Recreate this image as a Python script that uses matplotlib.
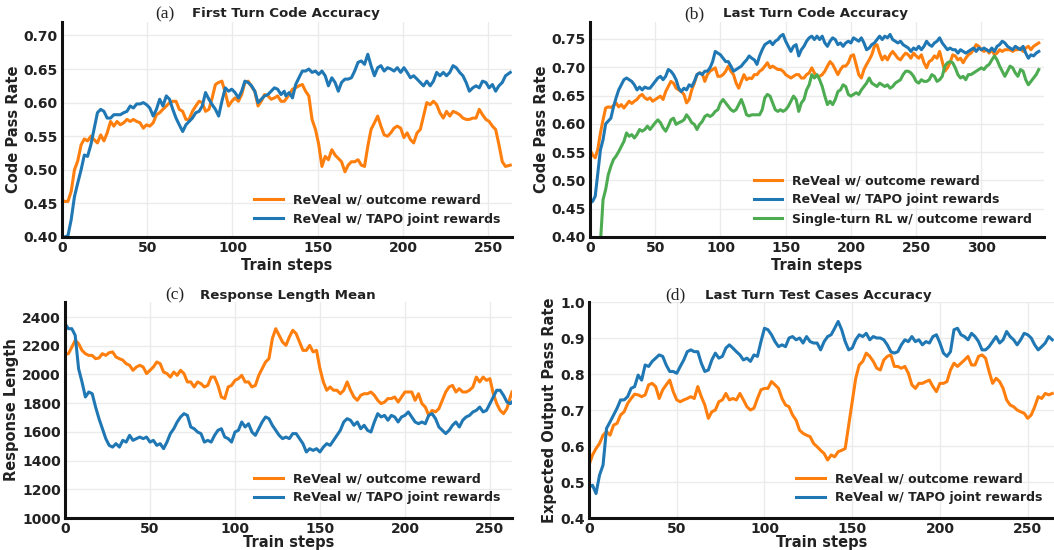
import matplotlib
matplotlib.use("Agg")
import matplotlib.pyplot as plt

# ---------------- data ----------------
a_steps = [0, 1.5, 3.5, 5.4, 7.3, 9.2, 11.2, 13.1, 15.0, 16.9, 18.8, 20.8, 22.7, 24.6, 26.5, 28.5, 30.4, 32.3, 34.2,
           36.2, 38.1, 40.0, 41.9, 43.8, 45.8, 47.7, 49.6, 51.5, 53.5, 55.4, 57.3, 59.2, 61.2, 63.1, 65.0, 66.9,
           68.8, 70.8, 72.7, 74.6, 76.5, 78.5, 80.4, 82.3, 84.2, 86.2, 88.1, 90.0, 91.9, 93.8, 95.8, 97.7, 99.6,
           101.5, 103.5, 105.4, 107.3, 109.2, 111.2, 113.1, 115.0, 116.9, 118.8, 120.8, 122.7, 124.6, 126.5,
           128.5, 130.4,
           131.3, 133.3, 135.2, 137.1, 139.0, 141.0, 142.9, 144.8, 146.7, 148.7, 150.6, 152.5, 154.4, 156.3,
           158.3, 160.2, 162.1, 164.0, 166.0, 167.9, 169.8, 171.7, 173.7, 175.6, 177.5, 179.4, 181.3, 183.3,
           185.2, 187.1, 189.0, 191.0, 192.9, 194.8, 196.7, 198.7, 200.6, 202.5, 204.4, 206.3, 208.3, 210.2,
           212.1, 214.0, 216.0, 217.9, 219.8, 221.7, 223.7, 225.6, 227.5, 229.4, 231.3, 233.3, 235.2, 237.1,
           239.0, 241.0, 242.9, 244.8, 246.7, 248.7, 250.6, 252.5, 254.4, 256.3, 258.3, 260.2, 263]
a_outcome = [0.455,
             0.453, 0.453, 0.468, 0.50, 0.513, 0.537, 0.546, 0.543, 0.55, 0.545,
             0.54, 0.552, 0.543, 0.555, 0.572, 0.565, 0.572, 0.567, 0.57, 0.575,
             0.572, 0.575, 0.572, 0.57, 0.562, 0.567, 0.565, 0.57, 0.582, 0.585,
             0.59, 0.595, 0.60, 0.602, 0.602, 0.59, 0.587, 0.575, 0.575, 0.587,
             0.595, 0.602, 0.60, 0.587, 0.59, 0.607, 0.627, 0.63, 0.632, 0.615,
             0.595, 0.602, 0.607, 0.602, 0.612, 0.63, 0.632, 0.624, 0.617, 0.595,
             0.602, 0.612, 0.61, 0.605, 0.607, 0.61, 0.602, 0.602,
             0.605, 0.612, 0.62, 0.622, 0.625, 0.627, 0.617, 0.61, 0.575, 0.56,
             0.538, 0.505, 0.52, 0.515, 0.53, 0.522, 0.517, 0.512, 0.497, 0.507,
             0.512, 0.512, 0.515, 0.507, 0.505, 0.535, 0.56, 0.57, 0.58, 0.565,
             0.552, 0.55, 0.555, 0.562, 0.565, 0.562, 0.548, 0.555, 0.545, 0.54,
             0.555, 0.56, 0.58, 0.60, 0.597, 0.602, 0.597, 0.585, 0.577, 0.587,
             0.58, 0.587, 0.585, 0.582, 0.577, 0.575, 0.575, 0.577, 0.577, 0.59,
             0.582, 0.575, 0.572, 0.565, 0.56, 0.538, 0.512, 0.505, 0.507]
a_tapo = [0.398,
          0.40, 0.402, 0.426, 0.46, 0.48, 0.50, 0.522, 0.52, 0.537, 0.56,
          0.585, 0.59, 0.587, 0.577, 0.577, 0.582, 0.582, 0.582, 0.585, 0.587,
          0.595, 0.592, 0.598, 0.598, 0.60, 0.597, 0.592, 0.58, 0.59, 0.605,
          0.595, 0.61, 0.605, 0.59, 0.577, 0.567, 0.557, 0.567, 0.572, 0.577,
          0.585, 0.587, 0.595, 0.615, 0.605, 0.597, 0.59, 0.58, 0.602, 0.622,
          0.617, 0.62, 0.615, 0.607, 0.617, 0.632, 0.63, 0.625, 0.617, 0.60,
          0.605, 0.61, 0.612, 0.617, 0.622, 0.62, 0.612, 0.617,
          0.61, 0.615, 0.607, 0.627, 0.637, 0.647, 0.647, 0.65, 0.645, 0.647,
          0.642, 0.647, 0.64, 0.625, 0.637, 0.63, 0.617, 0.63, 0.635, 0.635,
          0.637, 0.647, 0.66, 0.662, 0.657, 0.672, 0.655, 0.64, 0.652, 0.655,
          0.647, 0.652, 0.65, 0.647, 0.652, 0.645, 0.652, 0.645, 0.637, 0.64,
          0.635, 0.63, 0.625, 0.632, 0.625, 0.632, 0.645, 0.64, 0.645, 0.64,
          0.645, 0.655, 0.652, 0.645, 0.64, 0.63, 0.617, 0.622, 0.625, 0.622,
          0.632, 0.63, 0.622, 0.627, 0.617, 0.625, 0.63, 0.64, 0.645]

b_steps = list(range(0, 345, 2))
b_outcome = [0.554, 0.545, 0.54, 0.555, 0.584, 0.607, 0.628, 0.63, 0.629, 0.632,
             0.637, 0.63, 0.634, 0.628, 0.634, 0.64, 0.636, 0.64, 0.643, 0.649,
             0.652, 0.646, 0.643, 0.646, 0.64, 0.643, 0.646, 0.649, 0.643, 0.657,
             0.666, 0.675, 0.672, 0.663, 0.66, 0.657, 0.652, 0.637, 0.643, 0.66,
             0.672, 0.687, 0.69, 0.689, 0.675, 0.687, 0.693, 0.696, 0.699, 0.684,
             0.684, 0.687, 0.693, 0.702, 0.693, 0.687, 0.672, 0.663, 0.675, 0.687,
             0.678, 0.681, 0.68, 0.687, 0.687, 0.693, 0.696, 0.702, 0.708, 0.699,
             0.702, 0.699, 0.696, 0.696, 0.693, 0.687, 0.684, 0.681, 0.684, 0.687,
             0.687, 0.681, 0.681, 0.687, 0.69, 0.699, 0.69, 0.684, 0.684, 0.687,
             0.693, 0.702, 0.71, 0.705, 0.696, 0.687, 0.696, 0.702, 0.702, 0.708,
             0.72, 0.722, 0.705, 0.687, 0.681, 0.696, 0.705, 0.713, 0.722, 0.737,
             0.74, 0.725, 0.713, 0.72, 0.713, 0.722, 0.728, 0.722, 0.716, 0.713,
             0.72, 0.725, 0.722, 0.716, 0.725, 0.72, 0.716, 0.722, 0.708, 0.699,
             0.71, 0.713, 0.72, 0.716, 0.728, 0.71, 0.693, 0.699, 0.708, 0.722,
             0.72, 0.713, 0.716, 0.708, 0.716, 0.722, 0.725, 0.731, 0.74, 0.737,
             0.731, 0.728, 0.731, 0.725, 0.731, 0.722, 0.725, 0.731, 0.728, 0.731,
             0.731, 0.731, 0.728, 0.731, 0.731, 0.734, 0.728, 0.734, 0.737, 0.731,
             0.737, 0.74, 0.743]
b_tapo = [0.46, 0.463, 0.472, 0.513, 0.554, 0.572, 0.60, 0.605, 0.61, 0.63,
          0.646, 0.66, 0.669, 0.678, 0.681, 0.678, 0.675, 0.669, 0.66, 0.665,
          0.66, 0.665, 0.663, 0.663, 0.669, 0.675, 0.681, 0.684, 0.678, 0.684,
          0.696, 0.693, 0.687, 0.678, 0.663, 0.657, 0.663, 0.66, 0.669, 0.666,
          0.675, 0.687, 0.69, 0.687, 0.693, 0.693, 0.699, 0.71, 0.728, 0.725,
          0.722, 0.716, 0.71, 0.71, 0.702, 0.693, 0.696, 0.699, 0.702, 0.708,
          0.713, 0.72, 0.716, 0.713, 0.705, 0.72, 0.731, 0.74, 0.743, 0.746,
          0.74, 0.746, 0.749, 0.755, 0.758, 0.746, 0.737, 0.728, 0.737, 0.74,
          0.72, 0.731, 0.737, 0.746, 0.752, 0.755, 0.749, 0.755, 0.749, 0.755,
          0.743, 0.737, 0.746, 0.752, 0.749, 0.74, 0.743, 0.737, 0.743, 0.746,
          0.743, 0.752, 0.749, 0.746, 0.752, 0.743, 0.731, 0.734, 0.74, 0.743,
          0.749, 0.755, 0.749, 0.755, 0.752, 0.758, 0.749, 0.746, 0.743, 0.746,
          0.74, 0.737, 0.734, 0.728, 0.734, 0.731, 0.737, 0.731, 0.737, 0.746,
          0.74, 0.737, 0.743, 0.746, 0.752, 0.743, 0.737, 0.731, 0.734, 0.731,
          0.731, 0.725, 0.731, 0.728, 0.725, 0.728, 0.731, 0.734, 0.728, 0.734,
          0.731, 0.734, 0.731, 0.728, 0.734, 0.728, 0.737, 0.74, 0.746, 0.743,
          0.737, 0.734, 0.731, 0.737, 0.734, 0.731, 0.737, 0.725, 0.716, 0.722,
          0.72, 0.725, 0.728]
b_single_steps = [0, 4, 8] + list(range(10, 345, 2))
b_single = [0.30, 0.34, 0.39,
            0.466, 0.484, 0.51, 0.525, 0.537, 0.543, 0.551, 0.56, 0.569, 0.584,
            0.578, 0.581, 0.575, 0.581, 0.59, 0.587, 0.59, 0.596, 0.59, 0.596,
            0.602, 0.607, 0.602, 0.593, 0.587, 0.596, 0.607, 0.61, 0.599, 0.602,
            0.604, 0.607, 0.616, 0.61, 0.602, 0.599, 0.59, 0.599, 0.604, 0.613,
            0.616, 0.613, 0.616, 0.622, 0.625, 0.637, 0.643, 0.637, 0.631, 0.625,
            0.622, 0.625, 0.634, 0.643, 0.631, 0.616, 0.614, 0.616, 0.616, 0.616,
            0.616, 0.625, 0.646, 0.652, 0.649, 0.637, 0.625, 0.622, 0.625, 0.622,
            0.625, 0.631, 0.64, 0.649, 0.643, 0.622, 0.637, 0.643, 0.66, 0.669,
            0.687, 0.681, 0.687, 0.678, 0.666, 0.649, 0.634, 0.64, 0.634, 0.643,
            0.657, 0.66, 0.669, 0.666, 0.652, 0.649, 0.652, 0.655, 0.652, 0.66,
            0.666, 0.672, 0.681, 0.672, 0.669, 0.666, 0.672, 0.669, 0.666, 0.669,
            0.663, 0.666, 0.672, 0.675, 0.678, 0.687, 0.693, 0.693, 0.69, 0.684,
            0.675, 0.672, 0.678, 0.675, 0.675, 0.678, 0.687, 0.684, 0.675, 0.678,
            0.684, 0.702, 0.708, 0.71, 0.708, 0.699, 0.687, 0.681, 0.684, 0.678,
            0.687, 0.687, 0.69, 0.693, 0.696, 0.699, 0.696, 0.702, 0.705, 0.713,
            0.72, 0.713, 0.702, 0.693, 0.684, 0.693, 0.702, 0.699, 0.69, 0.684,
            0.696, 0.693, 0.678, 0.669, 0.675, 0.681, 0.687, 0.696]

c_steps = list(range(0, 263, 2)) + [263]
c_outcome = [2140, 2145, 2190, 2238, 2215, 2168, 2145, 2133, 2133, 2110,
             2115, 2145, 2133, 2152, 2157, 2122, 2110, 2100, 2075, 2064,
             2029, 2052, 2064, 2052, 2006, 2029, 2052, 2087, 2075, 2017,
             2006, 1982, 2017, 1994, 2029, 2006, 1948, 1948, 1913, 1948,
             1936, 1913, 1924, 1982, 1982, 1924, 1843, 1832, 1913, 1924,
             1959, 1971, 1994, 1948, 1948, 1913, 1924, 1994, 2040, 2087,
             2110, 2250, 2319, 2273, 2226, 2203, 2261, 2308, 2284, 2226,
             2168, 2168, 2203, 2157, 2168, 2040, 1948, 1890, 1913, 1890,
             1890, 1866, 1890, 1948, 1890, 1843, 1820, 1855, 1866, 1866,
             1878, 1855, 1820, 1797, 1808, 1832, 1832, 1843, 1808, 1843,
             1878, 1878, 1878, 1820, 1866, 1797, 1773, 1715, 1750, 1739,
             1762, 1820, 1878, 1913, 1924, 1878, 1901, 1878, 1878, 1890,
             1913, 1982, 1948, 1982, 1959, 1971, 1866, 1797, 1750, 1727,
             1762, 1843, 1878]
c_tapo = [2354, 2319, 2319, 2273, 2040, 1948, 1843, 1878, 1866, 1773,
          1692, 1622, 1553, 1506, 1494, 1518, 1494, 1541, 1529, 1576,
          1541, 1553, 1564, 1553, 1564, 1529, 1541, 1506, 1518, 1483,
          1529, 1588, 1622, 1669, 1704, 1727, 1715, 1634, 1622, 1599,
          1588, 1529, 1541, 1529, 1576, 1611, 1622, 1564, 1553, 1529,
          1599, 1611, 1669, 1634, 1657, 1599, 1576, 1622, 1669, 1704,
          1692, 1646, 1611, 1576, 1553, 1564, 1553, 1588, 1588, 1553,
          1518, 1460, 1483, 1471, 1483, 1460, 1494, 1518, 1506, 1541,
          1576, 1611, 1669, 1692, 1681, 1646, 1669, 1622, 1646, 1611,
          1599, 1669, 1727, 1704, 1715, 1681, 1715, 1704, 1669, 1704,
          1715, 1739, 1704, 1669, 1657, 1669, 1657, 1715, 1727, 1692,
          1634, 1611, 1588, 1611, 1646, 1669, 1634, 1681, 1704, 1715,
          1739, 1750, 1773, 1739, 1750, 1797, 1843, 1890, 1890, 1855,
          1808, 1797, 1808]

d_steps = list(range(0, 265, 2))
d_outcome = [0.547, 0.575, 0.593, 0.607, 0.63, 0.64, 0.63, 0.658, 0.663, 0.686,
             0.695, 0.718, 0.732, 0.744, 0.742, 0.737, 0.742, 0.77, 0.774, 0.765,
             0.732, 0.756, 0.77, 0.783, 0.751, 0.728, 0.723, 0.728, 0.732, 0.737,
             0.732, 0.765, 0.737, 0.714, 0.677, 0.695, 0.70, 0.723, 0.728, 0.746,
             0.728, 0.732, 0.728, 0.746, 0.728, 0.709, 0.70, 0.705, 0.732, 0.756,
             0.76, 0.76, 0.779, 0.77, 0.76, 0.732, 0.714, 0.709, 0.686, 0.672,
             0.644, 0.635, 0.63, 0.626, 0.607, 0.598, 0.588, 0.579, 0.561, 0.575,
             0.57, 0.584, 0.588, 0.593, 0.658, 0.723, 0.788, 0.825, 0.835, 0.858,
             0.849, 0.835, 0.816, 0.811, 0.839, 0.849, 0.853, 0.821, 0.821, 0.816,
             0.821, 0.802, 0.77, 0.76, 0.774, 0.774, 0.779, 0.783, 0.765, 0.751,
             0.774, 0.774, 0.779, 0.811, 0.83, 0.821, 0.83, 0.839, 0.849, 0.825,
             0.825, 0.849, 0.853, 0.844, 0.807, 0.774, 0.788, 0.779, 0.76, 0.728,
             0.714, 0.709, 0.70, 0.695, 0.691, 0.677, 0.686, 0.709, 0.737, 0.732,
             0.746, 0.742, 0.746]
d_tapo = [0.486, 0.491, 0.468, 0.519, 0.547, 0.649, 0.667, 0.686, 0.705, 0.728,
          0.728, 0.737, 0.76, 0.765, 0.797, 0.783, 0.825, 0.821, 0.835, 0.844,
          0.853, 0.849, 0.825, 0.807, 0.807, 0.802, 0.821, 0.839, 0.862, 0.867,
          0.862, 0.862, 0.83, 0.807, 0.811, 0.839, 0.858, 0.844, 0.849, 0.872,
          0.881, 0.872, 0.862, 0.853, 0.839, 0.844, 0.835, 0.853, 0.849, 0.89,
          0.927, 0.923, 0.909, 0.89, 0.876, 0.881, 0.876, 0.90, 0.904, 0.895,
          0.90, 0.886, 0.904, 0.89, 0.886, 0.886, 0.867, 0.89, 0.904, 0.909,
          0.927, 0.946, 0.923, 0.89, 0.867, 0.872, 0.895, 0.909, 0.904, 0.913,
          0.895, 0.904, 0.90, 0.90, 0.895, 0.881, 0.862, 0.858, 0.862, 0.881,
          0.895, 0.89, 0.904, 0.89, 0.895, 0.881, 0.89, 0.886, 0.904, 0.909,
          0.886, 0.858, 0.849, 0.862, 0.923, 0.927, 0.909, 0.904, 0.895, 0.913,
          0.904, 0.89, 0.867, 0.867, 0.876, 0.89, 0.904, 0.886, 0.895, 0.918,
          0.904, 0.895, 0.881, 0.895, 0.913, 0.909, 0.90, 0.881, 0.867, 0.876,
          0.886, 0.904, 0.895]

label_outcome = "ReVeal w/ outcome reward"
label_tapo = "ReVeal w/ TAPO joint rewards"
label_single = "Single-turn RL w/ outcome reward"

# ---------------- style ----------------
plt.rcParams['font.family'] = ['DejaVu Sans']
plt.rcParams['font.weight'] = 'bold'
C_OR = '#ff7f0e'
C_BL = '#1f77b4'
C_GR = '#4dac52'
TXT = '#222222'
LW = 2.2
W, H = 1054, 550

fig = plt.figure(figsize=(W / 100, H / 100), dpi=100)


def rect(l, t, r, b):
    return [l / W, 1 - b / H, (r - l) / W, (b - t) / H]


def style(ax, xlim, ylim, xticks, yticks, ylabel, yfmt, xpad):
    ax.set_xlim(*xlim)
    ax.set_ylim(*ylim)
    ax.set_xticks(xticks)
    ax.set_yticks(yticks)
    ax.set_yticklabels([yfmt.format(v) for v in yticks])
    ax.grid(True, color='#ebebeb', lw=1.0)
    ax.set_axisbelow(True)
    for s in ['top', 'right']:
        ax.spines[s].set_visible(False)
    for s in ['left', 'bottom']:
        ax.spines[s].set_color('#111111')
        ax.spines[s].set_linewidth(2.2)
    ax.tick_params(length=0, labelsize=10, pad=3, colors=TXT)
    for lab in ax.get_xticklabels() + ax.get_yticklabels():
        lab.set_fontweight('bold')
    ax.set_xlabel('Train steps', fontsize=10.5, fontweight='bold', labelpad=xpad, color=TXT)
    ax.set_ylabel(ylabel, fontsize=10.5, fontweight='bold', labelpad=2, color=TXT)


def title(xl, xt, y, tag, text):
    fig.text(xl / W, 1 - y / H, tag, family='Liberation Serif', fontsize=12.5,
             fontweight='normal', va='center', ha='left', color=TXT)
    fig.text(xt / W, 1 - y / H, text, fontsize=9.6, fontweight='bold', va='center',
             ha='left', color=TXT)


def legend(ax, anchor):
    leg = ax.legend(loc='lower right', bbox_to_anchor=anchor, frameon=False,
                    prop={'weight': 'bold', 'size': 9}, handlelength=2.3,
                    handletextpad=0.8, labelspacing=0.5, borderaxespad=0.0)
    for t in leg.get_texts():
        t.set_color(TXT)


# (a)
ax = fig.add_axes(rect(62, 22, 512, 237))
ax.plot(a_steps, a_outcome, color=C_OR, lw=LW, label=label_outcome)
ax.plot(a_steps, a_tapo, color=C_BL, lw=LW, label=label_tapo)
style(ax, (0, 264), (0.40, 0.72), [0, 50, 100, 150, 200, 250],
      [0.40, 0.45, 0.50, 0.55, 0.60, 0.65, 0.70], 'Code Pass Rate', '{:.2f}', 2)
legend(ax, (0.985, 0.03))
title(155, 192, 14, '(a)', 'First Turn Code Accuracy')

# (b)
ax = fig.add_axes(rect(590, 22, 1044, 237))
ax.plot(b_steps, b_outcome, color=C_OR, lw=LW, label=label_outcome)
ax.plot(b_steps, b_tapo, color=C_BL, lw=LW, label=label_tapo)
ax.plot(b_single_steps, b_single, color=C_GR, lw=LW, label=label_single)
style(ax, (0, 348), (0.40, 0.78), [0, 50, 100, 150, 200, 250, 300],
      [0.40, 0.45, 0.50, 0.55, 0.60, 0.65, 0.70, 0.75], 'Code Pass Rate', '{:.2f}', 2)
legend(ax, (0.985, 0.03))
title(684, 723, 14, '(b)', 'Last Turn Code Accuracy')

# (c)
ax = fig.add_axes(rect(65, 302, 512, 518))
ax.plot(c_steps, c_outcome, color=C_OR, lw=LW, label=label_outcome)
ax.plot(c_steps, c_tapo, color=C_BL, lw=LW, label=label_tapo)
style(ax, (0, 263), (1000, 2505), [0, 50, 100, 150, 200, 250],
      [1000, 1200, 1400, 1600, 1800, 2000, 2200, 2400], 'Response Length', '{:.0f}', -0.5)
legend(ax, (0.985, 0.04))
title(165, 200, 295, '(c)', 'Response Length Mean')

# (d)
ax = fig.add_axes(rect(589, 302, 1054, 518))
ax.plot(d_steps, d_outcome, color=C_OR, lw=LW, label=label_outcome)
ax.plot(d_steps, d_tapo, color=C_BL, lw=LW, label=label_tapo)
style(ax, (0, 265), (0.4, 1.0), [0, 50, 100, 150, 200, 250],
      [0.4, 0.5, 0.6, 0.7, 0.8, 0.9, 1.0], 'Expected Output Pass Rate', '{:.1f}', -0.5)
legend(ax, (0.985, 0.04))
title(665, 705, 295, '(d)', 'Last Turn Test Cases Accuracy')

fig.savefig('out.png', dpi=100)
